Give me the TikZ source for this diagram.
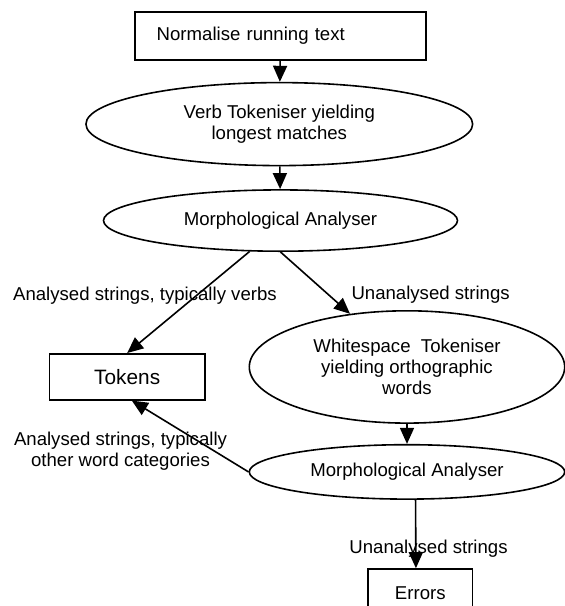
\documentclass[tikz,border=0pt]{standalone}
\usepackage{fontspec}
\setmainfont{Liberation Sans}
\usetikzlibrary{arrows.meta,shapes,positioning}

\begin{document}
\begin{tikzpicture}[x=1pt, y=1pt, line width=1.6pt]
	\tikzset{BoxStyle/.style = {
			shape=rectangle,
			draw=black,
			font=\fontsize{18.6}{21}\selectfont
	}}
	\tikzset{EllipseStyle/.style = {
			shape=ellipse,
			draw=black,
			inner sep=0pt,
			align=center,
			font=\fontsize{18.6}{21}\selectfont
	}}
	\tikzset{LabelStyle/.style = {
			align=center,
			font=\fontsize{18.6}{21}\selectfont
	}}
	\tikzset{ArrowStyle/.style = {
			-{Triangle[length=16pt,width=14pt]}
	}}
	\useasboundingbox (0,0) rectangle (565,-606);
	\node[BoxStyle, text width=247.6pt, align=left, inner xsep=21.7pt, minimum height=48pt] (1) at (280.5,-36) {Normalise running text};
	\node[EllipseStyle, below=21pt of 1, xshift=-1.2pt, minimum width=386.7pt, minimum height=83pt] (2) {Verb Tokeniser yielding\\longest matches};
	\node[EllipseStyle, below=22.7pt of 2, xshift=1.2pt, minimum width=354pt, minimum height=61.3pt] (3) {Morphological Analyser};
	\node[BoxStyle, below=101pt of 3, xshift=-153.3pt, minimum width=155.7pt, minimum height=46pt, font=\fontsize{20.8}{24}\selectfont] (4) {Tokens};
	\node[EllipseStyle, below=58pt of 3, xshift=126.5pt, minimum width=315.4pt, minimum height=112.3pt] (5) {Whitespace\ \ Tokeniser\\yielding orthographic\\words};
	\node[EllipseStyle, below=20pt of 5, minimum width=315.4pt, minimum height=54.4pt] (6) {Morphological Analyser};
	\node[BoxStyle, below=68.3pt of 6, xshift=13.3pt, minimum width=104.7pt, minimum height=48pt] (7) {Errors};
	
	\path [ArrowStyle] (1) edge (2);
	\path [ArrowStyle] (2) edge (3);
	\path [ArrowStyle] (3.225) edge node[LabelStyle, pos=0.434, xshift=-51.5pt] {Analysed strings, typically verbs} (4.north);
	\path [ArrowStyle] (3.south) edge node[LabelStyle, pos=0.695, xshift=101.8pt] {Unanalysed strings} (5.137);
	\path [ArrowStyle] (5) edge (6);
	\path [ArrowStyle] (6.west) edge node[LabelStyle, pos=0.288, xshift=-94.4pt] {Analysed strings, typically\\other word categories} (4.281);
	\path [ArrowStyle] (6.287) edge node[LabelStyle, pos=0.713, xshift=12.7pt] {Unanalysed strings} (7.100);
\end{tikzpicture}
\end{document}
